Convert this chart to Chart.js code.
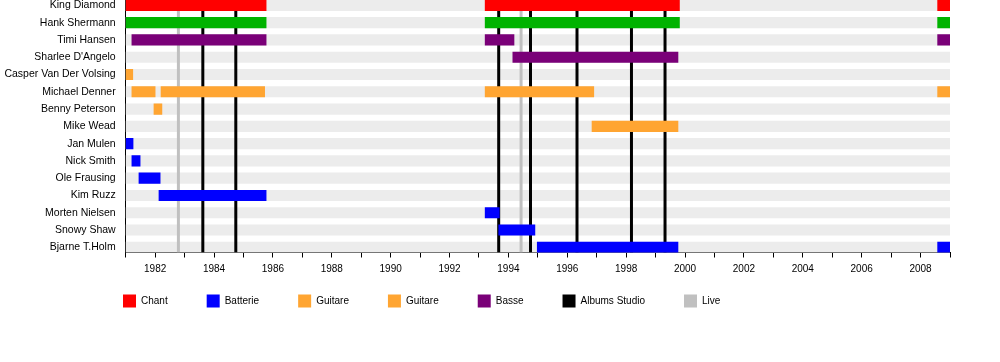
<!DOCTYPE html>
<html>
<head>
<meta charset="utf-8">
<script src="https://cdn.jsdelivr.net/npm/chart.js@4"></script>
<style>
  html, body { margin: 0; padding: 0; background: #fff; }
  #wrap { width: 1000px; height: 362px; }
</style>
</head>
<body>
<div id="wrap"><canvas id="myChart" width="1000" height="362"></canvas></div>
<script>
// band members, top to bottom
const members = [
    'King Diamond', 'Hank Shermann', 'Timi Hansen', "Sharlee D'Angelo",
    'Casper Van Der Volsing', 'Michael Denner', 'Benny Peterson', 'Mike Wead',
    'Jan Mulen', 'Nick Smith', 'Ole Frausing', 'Kim Ruzz',
    'Morten Nielsen', 'Snowy Shaw', 'Bjarne T.Holm'
];

const yearStart = 1981;
const yearEnd = 2009;

// [row, from, to]
const chant = [[0, 1981.0, 1985.77], [0, 1993.21, 1999.81], [0, 2008.58, 2009.0]];
const hank = [[1, 1981.0, 1985.77], [1, 1993.21, 1999.81], [1, 2008.58, 2009.0]];
const batterie = [
    [8, 1981.0, 1981.25], [9, 1981.21, 1981.49], [10, 1981.45, 1982.17],
    [11, 1982.13, 1985.77], [12, 1993.21, 1993.69], [13, 1993.67, 1994.9],
    [14, 1994.98, 1999.76], [14, 2008.58, 2009.0]
];
const guitare1 = [
    [5, 1981.21, 1982.0], [5, 1982.2, 1985.72], [5, 1993.21, 1996.9],
    [5, 2008.58, 2009.0], [7, 1996.84, 1999.76]
];
const guitare2 = [[4, 1981.0, 1981.24], [6, 1981.96, 1982.23]];
const basse = [
    [2, 1981.21, 1985.77], [2, 1993.21, 1994.19], [2, 2008.58, 2009.0],
    [3, 1994.15, 1999.76]
];
const albumsStudio = [1983.62, 1984.74, 1993.67, 1994.75, 1996.33, 1998.18, 1999.32];
const live = [1982.79, 1994.43];

const rowMin = -0.31;
const rowMax = 14.3;

function bars(list) {
    return list.map(b => ({ x: [b[1], b[2]], y: b[0] }));
}

function vlines(years) {
    let pts = [];
    years.forEach(yr => {
        pts.push({ x: yr, y: rowMin }, { x: yr, y: rowMax }, { x: yr, y: null });
    });
    return pts;
}

const font = { family: "'Liberation Sans', Arial, sans-serif", size: 10 };
const nameFont = { family: "'Liberation Sans', Arial, sans-serif", size: 10.5 };

// put the legend where the original has it
const moveLegend = {
    id: 'moveLegend',
    afterLayout(chart) {
        chart.legend.left = 84;
        chart.legend.top = 255.5;
    }
};

const ctx = document.getElementById('myChart');
const myChart = new Chart(ctx, {
    type: 'bar',
    data: {
        datasets: [
            { label: 'stripes', data: members.map((m, i) => ({ x: [yearStart, yearEnd], y: i })),
              backgroundColor: '#ececec', order: 10 },
            { label: 'Chant', data: bars(chant), backgroundColor: '#ff0000', order: 1 },
            { label: 'Batterie', data: bars(batterie), backgroundColor: '#0000ff', order: 1 },
            { label: 'Guitare', data: bars(guitare1), backgroundColor: '#ffa532', order: 1 },
            { label: 'Guitare', data: bars(guitare2), backgroundColor: '#ffa532', order: 1 },
            { label: 'Basse', data: bars(basse), backgroundColor: '#7a0078', order: 1 },
            { type: 'line', label: 'Albums Studio', indexAxis: 'x', data: vlines(albumsStudio),
              borderColor: '#000', backgroundColor: '#000', borderWidth: 3, pointRadius: 0, order: 5 },
            { type: 'line', label: 'Live', indexAxis: 'x', data: vlines(live),
              borderColor: '#c0c0c0', backgroundColor: '#c0c0c0', borderWidth: 3, pointRadius: 0, order: 6 },
            { label: 'hank', data: bars(hank), backgroundColor: '#00b300', order: 1 }
        ]
    },
    options: {
        indexAxis: 'y',
        responsive: false,
        animation: false,
        layout: { padding: { left: 0, right: 50, top: 0, bottom: 22.5 } },
        datasets: {
            bar: { grouped: false, barThickness: 10.5, borderWidth: 0 },
            line: { spanGaps: false }
        },
        scales: {
            x: {
                type: 'linear',
                min: yearStart,
                max: yearEnd,
                offset: false,
                ticks: {
                    stepSize: 1,
                    autoSkip: false,
                    maxRotation: 0,
                    padding: 6,
                    color: '#000',
                    font: font,
                    callback: v => (v % 2 === 0 ? String(v) : '')
                },
                grid: { display: true, offset: false, drawOnChartArea: false, drawTicks: true, tickLength: 5, color: '#000' },
                border: { display: true, color: '#000', width: 1 },
                afterFit: axis => {
                    axis.height = 25;
                    axis.paddingLeft = 0;
                    axis.paddingRight = 0;
                }
            },
            y: {
                type: 'linear',
                reverse: true,
                offset: false,
                min: rowMin,
                max: rowMax,
                afterBuildTicks: axis => {
                    axis.ticks = members.map((m, i) => ({ value: i }));
                },
                ticks: {
                    autoSkip: false,
                    padding: 10,
                    color: '#000',
                    font: nameFont,
                    callback: v => members[v]
                },
                grid: { display: false, drawTicks: false, offset: false },
                border: { display: true, color: '#000', width: 1 },
                afterFit: axis => {
                    axis.width = 125.7;
                    axis.paddingTop = 0;
                    axis.paddingBottom = 0;
                }
            }
        },
        plugins: {
            tooltip: { enabled: false },
            legend: {
                position: 'bottom',
                align: 'start',
                labels: {
                    boxWidth: 13,
                    boxHeight: 13,
                    padding: 39,
                    color: '#000',
                    font: font,
                    generateLabels: chart => {
                        const items = Chart.defaults.plugins.legend.labels.generateLabels(chart);
                        return items
                            .filter(it => it.text !== 'stripes' && it.text !== 'hank')
                            .sort((a, b) => a.datasetIndex - b.datasetIndex)
                            .map(it => ({ ...it, lineWidth: 0 }));
                    }
                }
            }
        }
    },
    plugins: [moveLegend]
});
</script>
</body>
</html>
